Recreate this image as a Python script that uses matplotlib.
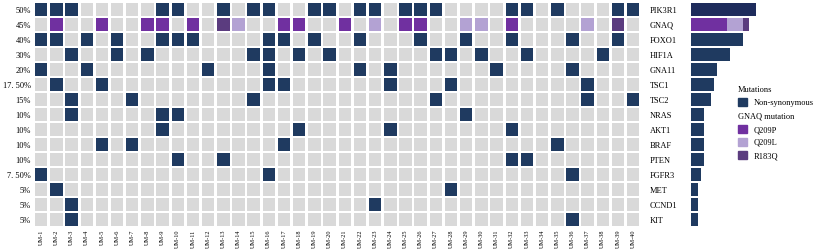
import matplotlib
matplotlib.use('Agg')
import matplotlib.pyplot as plt
from matplotlib.patches import Rectangle, Patch

plt.rcParams['font.family'] = ['Liberation Serif', 'DejaVu Serif']

# ---- data ----
genes = ['PIK3R1', 'GNAQ', 'FOXO1', 'HIF1A', 'GNA11', 'TSC1', 'TSC2', 'NRAS',
         'AKT1', 'BRAF', 'PTEN', 'FGFR3', 'MET', 'CCND1', 'KIT']
pct_labels = ['50%', '45%', '40%', '30%', '20%', '17. 50%', '15%', '10%', '10%',
              '10%', '10%', '7. 50%', '5%', '5%', '5%']
samples = ['UM-%d' % i for i in range(1, 41)]

# mutated samples (UM number) per gene, non-synonymous
pik3r1 = [1, 2, 3, 9, 10, 13, 15, 16, 19, 20, 22, 23, 25, 26, 27, 32, 33, 35, 39, 40]
foxo1 = [1, 2, 4, 6, 9, 10, 11, 16, 17, 19, 22, 26, 29, 32, 36, 39]
hif1a = [3, 6, 8, 15, 16, 18, 20, 27, 28, 30, 33, 38]
gna11 = [1, 4, 12, 16, 22, 24, 31, 36]
tsc1 = [2, 5, 16, 17, 24, 28, 37]
tsc2 = [3, 7, 15, 27, 37, 40]
nras = [3, 9, 10, 29]
akt1 = [9, 18, 24, 32]
braf = [5, 7, 17, 35]
pten = [10, 13, 32, 33]
fgfr3 = [1, 16, 36]
met = [2, 28]
ccnd1 = [3, 23]
kit = [3, 36]

# GNAQ by hotspot
gnaq_q209p = [2, 5, 8, 9, 11, 17, 18, 21, 25, 26, 32]
gnaq_q209l = [14, 23, 29, 30, 37]
gnaq_r183q = [13, 39]

other_rows = {0: pik3r1, 2: foxo1, 3: hif1a, 4: gna11, 5: tsc1, 6: tsc2, 7: nras,
              8: akt1, 9: braf, 10: pten, 11: fgfr3, 12: met, 13: ccnd1, 14: kit}

# ---- colours ----
c_gray = '#D9D9D9'
c_navy = '#1F3A60'
c_pik = '#1E2C5C'
c_q209p = '#7030A0'
c_q209l = '#B3A2D3'
c_r183q = '#5B3C7F'

W, H = 825, 252
fig = plt.figure(figsize=(W / 100, H / 100), dpi=100)

bottom = 1 - 227.2 / H
height = 225 / H
ax = fig.add_axes([33.6 / W, bottom, 607.2 / W, height])

cw, ch = 0.82, 0.84
for r in range(len(genes)):
    for c in range(len(samples)):
        num = c + 1
        col = c_gray
        if r == 1:
            if num in gnaq_q209p:
                col = c_q209p
            elif num in gnaq_q209l:
                col = c_q209l
            elif num in gnaq_r183q:
                col = c_r183q
        elif num in other_rows[r]:
            col = c_navy
        ax.add_patch(Rectangle((c - cw / 2, r - ch / 2), cw, ch, color=col, lw=0))

ax.set_xlim(-0.5, 39.5)
ax.set_ylim(14.5, -0.5)
for s in ax.spines.values():
    s.set_visible(False)
ax.set_xticks(range(40))
ax.set_xticklabels(samples, rotation=90, fontsize=4.5)
ax.set_yticks(range(15))
ax.set_yticklabels(pct_labels, fontsize=6)
ax.tick_params(length=0, pad=2)
ax.tick_params(axis='x', pad=2)

# ---- bar panel ----
axb = fig.add_axes([691 / W, bottom, 65 / W, height])
counts = [len(other_rows[r]) if r != 1 else 0 for r in range(15)]
bar_cols = [c_pik] + [c_navy] * 14
rows = [r for r in range(15) if r != 1]
axb.barh(rows, [counts[r] for r in rows], height=0.85, color=[bar_cols[r] for r in rows])
n_p, n_l, n_r = len(gnaq_q209p), len(gnaq_q209l), len(gnaq_r183q)
axb.barh(1, n_p, height=0.85, color=c_q209p)
axb.barh(1, n_l, left=n_p, height=0.85, color=c_q209l)
axb.barh(1, n_r, left=n_p + n_l, height=0.85, color=c_r183q)
axb.set_xlim(0, 20)
axb.set_ylim(14.5, -0.5)
for s in axb.spines.values():
    s.set_visible(False)
axb.set_xticks([])
axb.set_yticks(range(15))
axb.set_yticklabels(genes, fontsize=6)
axb.tick_params(axis='y', length=0, pad=29.5)
for lab in axb.get_yticklabels():
    lab.set_ha('left')

# ---- legends ----
lkw = dict(frameon=False, fontsize=6, title_fontsize=6, alignment='left',
           handlelength=1.1, handleheight=1.1, handletextpad=0.8,
           labelspacing=0.5, borderpad=0, borderaxespad=0, loc='upper left')
leg1 = fig.legend(handles=[Patch(color=c_navy, label='Non-synonymous')],
                  title='Mutations', bbox_to_anchor=(738 / W, 1 - 86 / H), **lkw)
leg2 = fig.legend(handles=[Patch(color=c_q209p, label='Q209P'),
                           Patch(color=c_q209l, label='Q209L'),
                           Patch(color=c_r183q, label='R183Q')],
                  title='GNAQ mutation', bbox_to_anchor=(738 / W, 1 - 113 / H), **lkw)

fig.savefig('out.png', dpi=100)
